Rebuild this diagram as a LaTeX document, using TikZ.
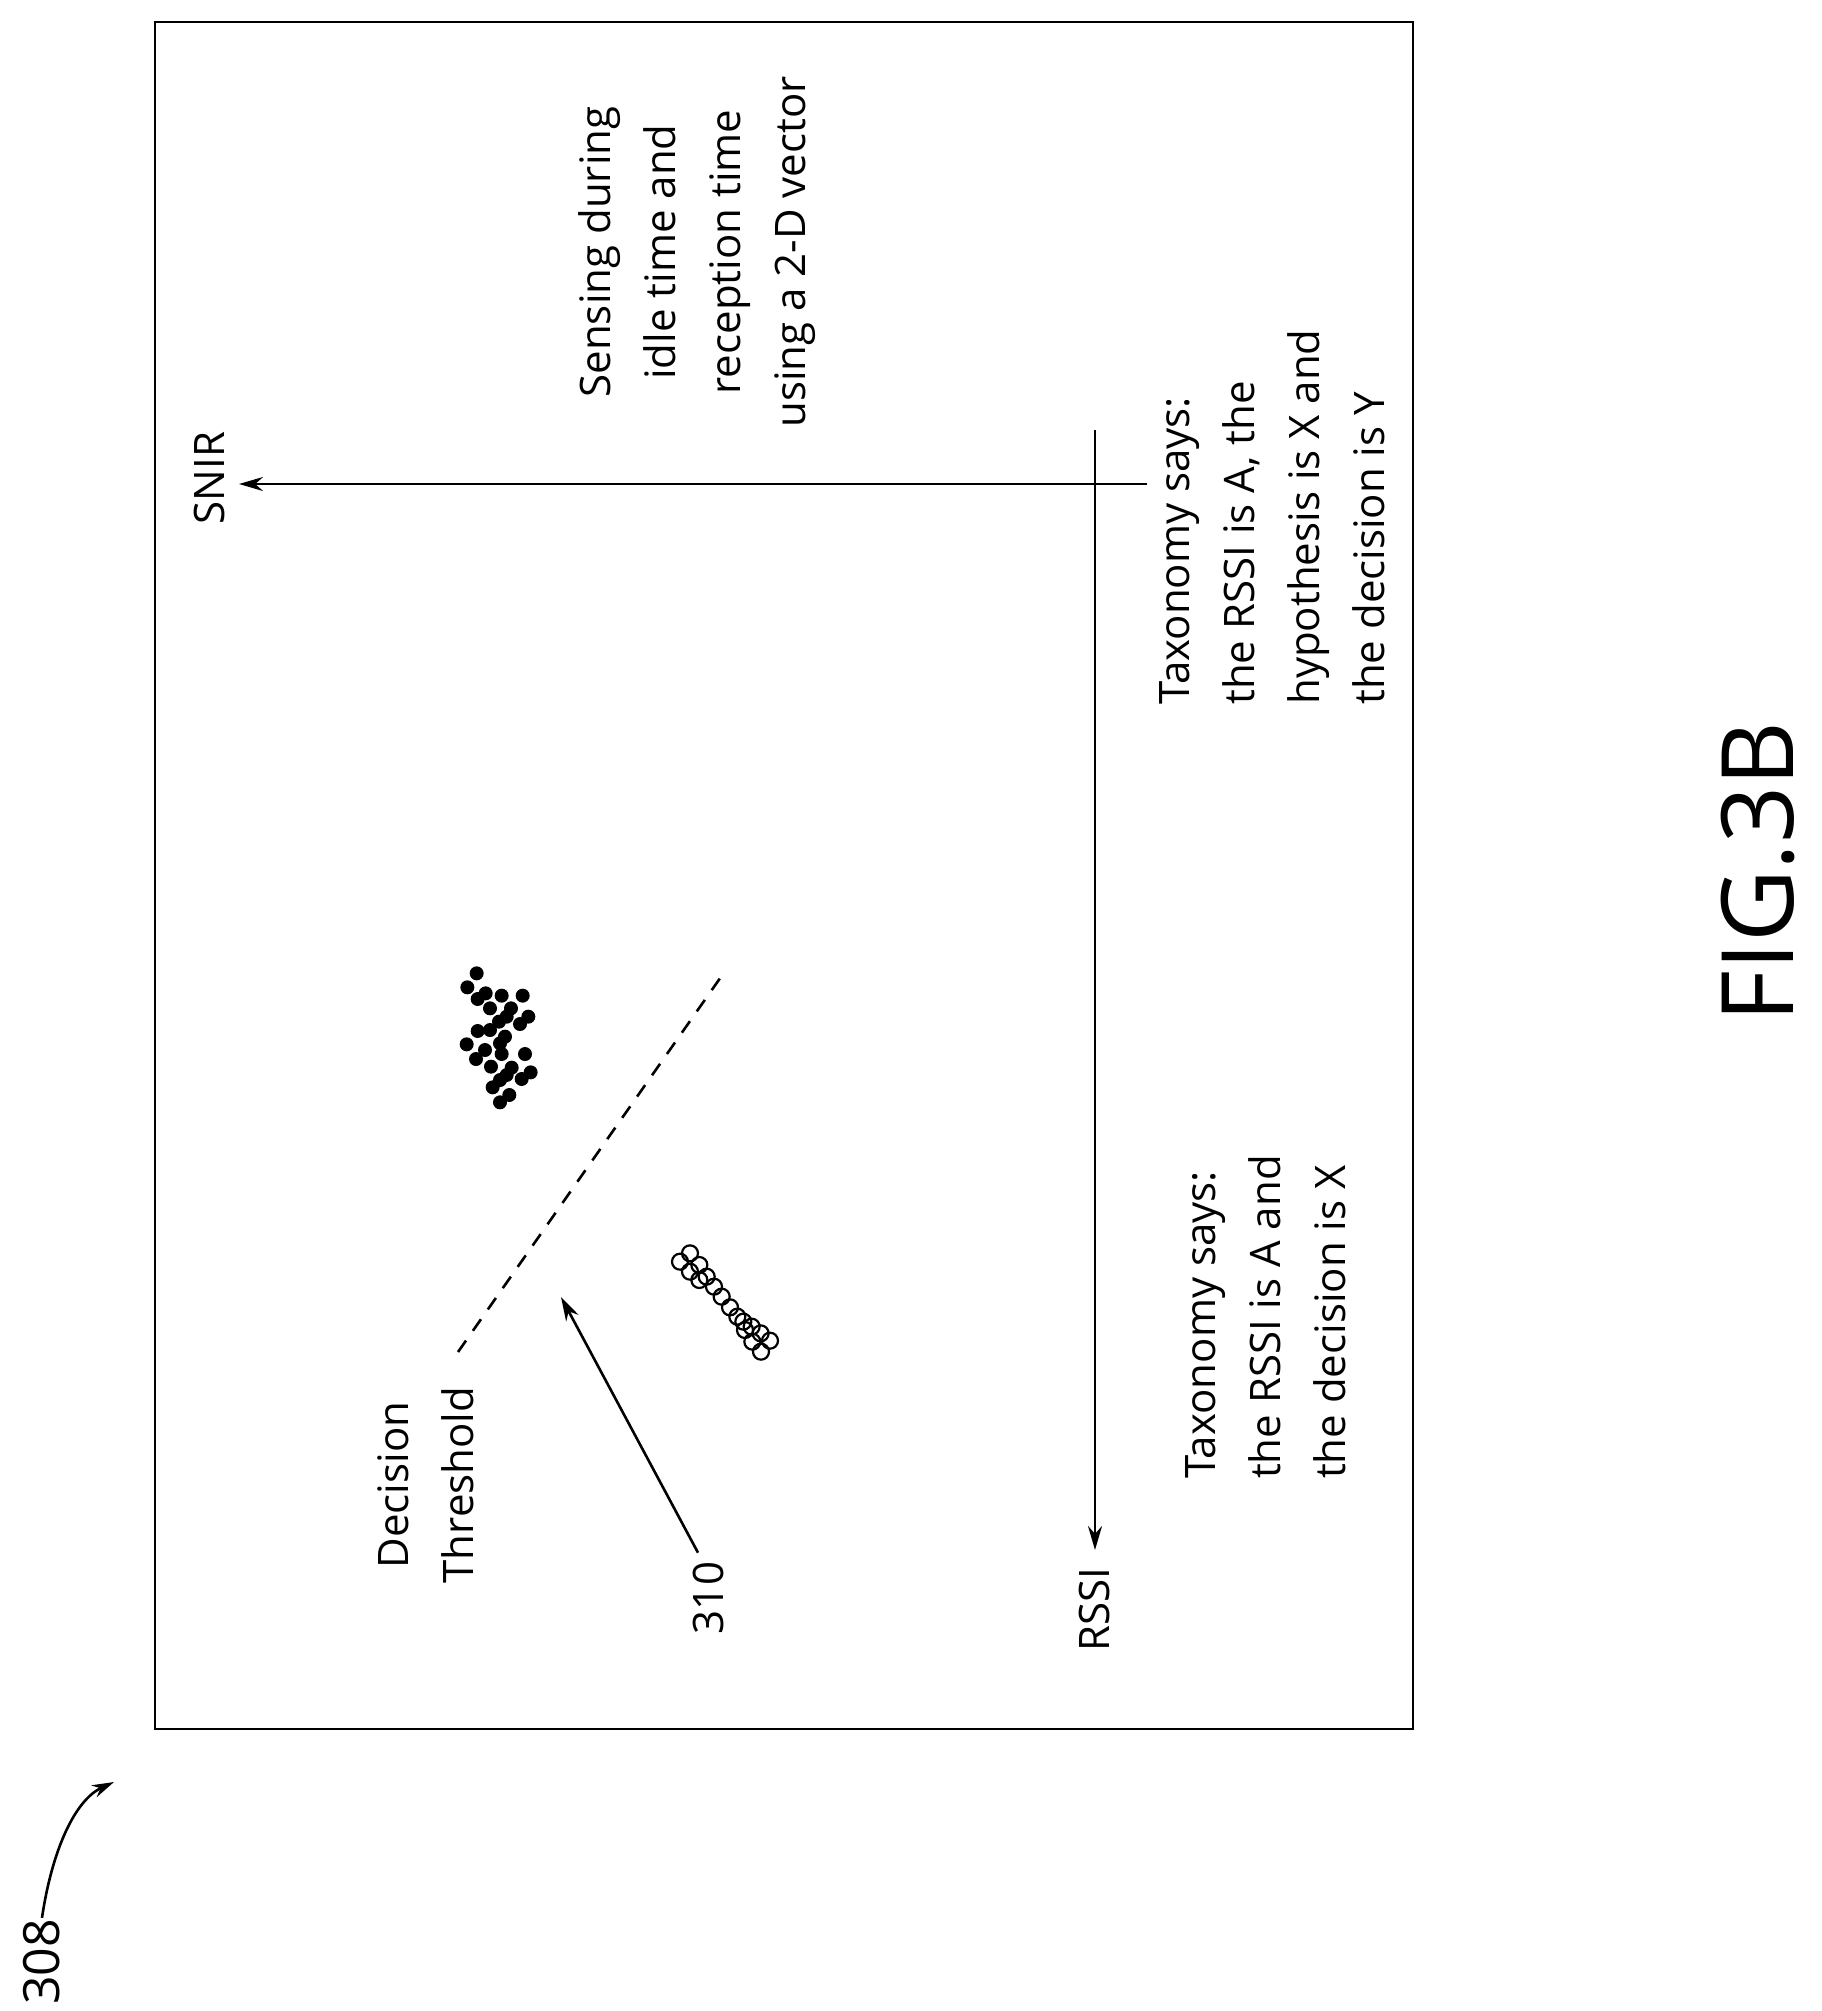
\documentclass[tikz,border=0pt]{standalone}
\usepackage{fontspec}
\setmainfont{Open Sans}
\usetikzlibrary{arrows.meta}
\begin{document}
\begin{tikzpicture}[x=1pt,y=-1pt,line width=2.6pt,
  lbl/.style={font=\fontsize{42}{65}\selectfont,rotate=90,inner sep=0},
  tip/.style={-{Stealth[length=24pt,width=14pt]}},
  hdot/.style={draw=black,line width=2.2pt,fill=none}]
\useasboundingbox (0,0) rectangle (1821,2011);
\draw (155,22) rectangle (1413,1729);
% axes
\coordinate (snirS) at (1147,484);
\coordinate (snirE) at (239,484);
\coordinate (rssiS) at (1095,430);
\coordinate (rssiE) at (1095,1550);
\draw[tip] (snirS) -- (snirE);
\draw[tip] (rssiS) -- (rssiE);
\node[lbl,anchor=south] (snir) at (226,478) {SNIR};
\node[lbl,anchor=north] (rssi) at (1078,1610) {RSSI};
\node[lbl,align=center] (sens) at (697,252) {Sensing during\\idle time and\\reception time\\using a 2-D vector};
\node[lbl,align=left] (tax1) at (1272,517) {Taxonomy says:\\the RSSI is A, the\\hypothesis is X and\\the decision is Y};
\node[lbl,align=left] (tax2) at (1266,1317) {Taxonomy says:\\the RSSI is A and\\the decision is X};
\node[lbl,align=center] (dec) at (426,1485) {Decision\\Threshold};
\coordinate (thA) at (458,1352);
\coordinate (thB) at (723,974);
\draw[dash pattern=on 14pt off 12pt] (thA) -- (thB);
\node[lbl] (n310) at (708,1598) {310};
\coordinate (a310) at (561,1297);
\draw[tip] (n310.east) ++(-10,-8) coordinate (b310) -- (a310);
\node[lbl,font=\fontsize{50}{60}\selectfont] (n308) at (42,1962) {308};
\coordinate (a308) at (114,1782);
\draw[-{Stealth[length=22pt,width=13pt]}] (n308.east) .. controls (52,1850) and (75,1800) .. (a308);
\node[font=\fontsize{100}{100}\selectfont,rotate=90,inner sep=0] (fig) at (1758,872) {FIG.3B};
% clusters
\begin{scope}[shift={(400,900)},x=1/3pt,y=-1/3pt]
\foreach \p in {(230,220),(202,262),(233,297),(257,280),(305,287),(368,287),(270,325),(333,325),(320,350),(297,365),(385,350),(360,372),(233,393),(270,390),(315,410),(300,430),(200,433),(255,450),(228,477),(305,462),(375,462),(273,500),(335,503),(320,525),(300,540),(278,562),(392,517),(365,537),(328,585),(300,607)}
  \fill \p circle (7pt);
\foreach \p in {(870,1060),(840,1085),(898,1095),(870,1115),(920,1130),(898,1140),(942,1160),(965,1190),(990,1222),(1012,1250),(1030,1265),(1055,1280),(1035,1290),(1082,1300),(1110,1322),(1057,1325),(1083,1355)}
  \draw[hdot] \p circle (8pt);
\end{scope}
\end{tikzpicture}
\end{document}
